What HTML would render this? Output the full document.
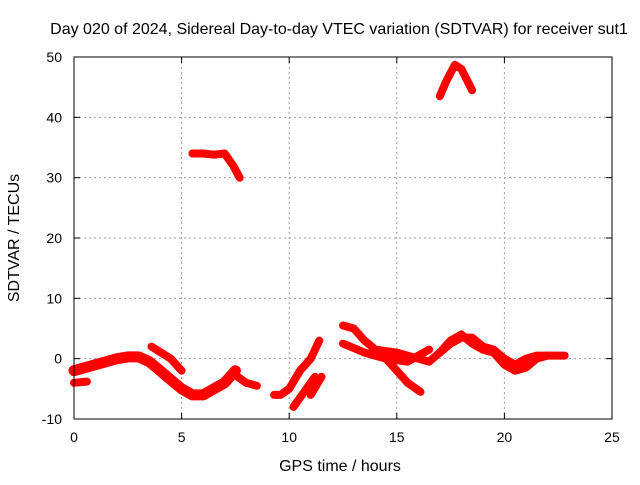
<!DOCTYPE html>
<html><head><meta charset="utf-8"><style>
body{margin:0;background:#fff}
svg text{font-family:"Liberation Sans",sans-serif;font-size:14px;fill:#000}
svg text.big{font-size:16px}
</style></head><body>
<svg width="640" height="480" id="c">
<text class="big" x="339" y="34" text-anchor="middle">Day 020 of 2024, Sidereal Day-to-day VTEC variation (SDTVAR) for receiver sut1</text>
<text class="big" x="340" y="471" text-anchor="middle">GPS time / hours</text>
<text class="big" transform="translate(19,238) rotate(-90)" text-anchor="middle">SDTVAR / TECUs</text>
<g id="grid"></g><g id="data"></g><g id="axes"></g>
</svg>
<script>
const xTicks=[0,5,10,15,20,25];
const yTicks=[-10,0,10,20,30,40,50];
const tracks=[
 {h:[0,0.5,1,1.5,2,2.5,3,3.5,4,4.5,5,5.5,6,6.5,7,7.5],v:[-2,-1.5,-1,-0.5,0,0.3,0.3,-0.5,-2,-3.5,-5,-6,-6,-5,-4,-2]},
 {h:[0,0.6],v:[-4,-3.8]},
 {h:[3.6,4.5,5],v:[2,0,-2]},
 {h:[7.6,8,8.5],v:[-3,-4,-4.5]},
 {h:[9.3,9.6,10,10.5,11,11.4],v:[-6,-6,-5,-2,0,3]},
 {h:[10.2,10.8,11.2],v:[-8,-5,-3]},
 {h:[11,11.5],v:[-6,-3]},
 {h:[12.5,13,13.5,14,15,16,16.5,17,17.5,18,18.5,19,19.5,20,20.5,21,21.5,22,22.8],v:[5.5,5,3,1.5,1,0,-0.5,1,2.5,3.5,3.5,2,1.5,0,-1,0,0.5,0.5,0.5]},
 {h:[12.5,13.5,14.5,15.5,16,16.5],v:[2.5,1,0,-0.5,0.5,1.5]},
 {h:[14.5,15,15.5,16.1],v:[0,-2,-4,-5.5]},
 {h:[17,17.5,18,18.5,19,19.5,20,20.5,21,21.5,22],v:[1,3,4,2.5,1.5,1,-1,-2,-1.5,0,0.5]},
 {h:[5.5,6,6.5,7,7.4,7.7],v:[34,34,33.8,34,32,30]},
 {h:[17,17.3,17.7,18,18.5],v:[43.5,46,48.7,48,44.5]}
];
const X=h=>74+h*538/25, Y=v=>57+(50-v)*362/60;
const ns="http://www.w3.org/2000/svg";
const mk=(p,t,a)=>{const e=document.createElementNS(ns,t);for(const k in a)e.setAttribute(k,a[k]);p.appendChild(e);return e;};
const G=document.getElementById('grid'),D=document.getElementById('data'),A=document.getElementById('axes');
xTicks.forEach(t=>{
 if(t>0&&t<25){const l=mk(G,'line',{x1:X(t),x2:X(t),y1:57,y2:419,stroke:'#a0a0a0','stroke-dasharray':'2,3'});
 
 }
 mk(A,'line',{x1:X(t),x2:X(t),y1:419,y2:413,stroke:'#000'});
 mk(A,'line',{x1:X(t),x2:X(t),y1:57,y2:63,stroke:'#000'});
 const tx=mk(A,'text',{x:X(t),y:442,'text-anchor':'middle'});tx.textContent=t;
 
 
});
yTicks.forEach(t=>{
 if(t>-10&&t<50){const l=mk(G,'line',{x1:74,x2:612,y1:Y(t),y2:Y(t),stroke:'#a0a0a0','stroke-dasharray':'2,3'});
 
 }
 mk(A,'line',{x1:74,x2:80,y1:Y(t),y2:Y(t),stroke:'#000'});
 mk(A,'line',{x1:606,x2:612,y1:Y(t),y2:Y(t),stroke:'#000'});
 const tx=mk(A,'text',{x:62,y:Y(t)+5,'text-anchor':'end'});tx.textContent=t;
 
 
});
const fr=mk(A,'rect',{x:74,y:57,width:538,height:362,fill:'none',stroke:'#000'});


tracks.forEach((tr,i)=>{
 const pts=tr.h.map((h,j)=>X(h).toFixed(1)+','+Y(tr.v[j]).toFixed(1)).join(' ');
 const p=mk(D,'polyline',{points:pts,fill:'none',stroke:'#ff0000','stroke-width':i===0?11:8,'stroke-linejoin':'round','stroke-linecap':'round'});
 
 
});
</script>
</body></html>
